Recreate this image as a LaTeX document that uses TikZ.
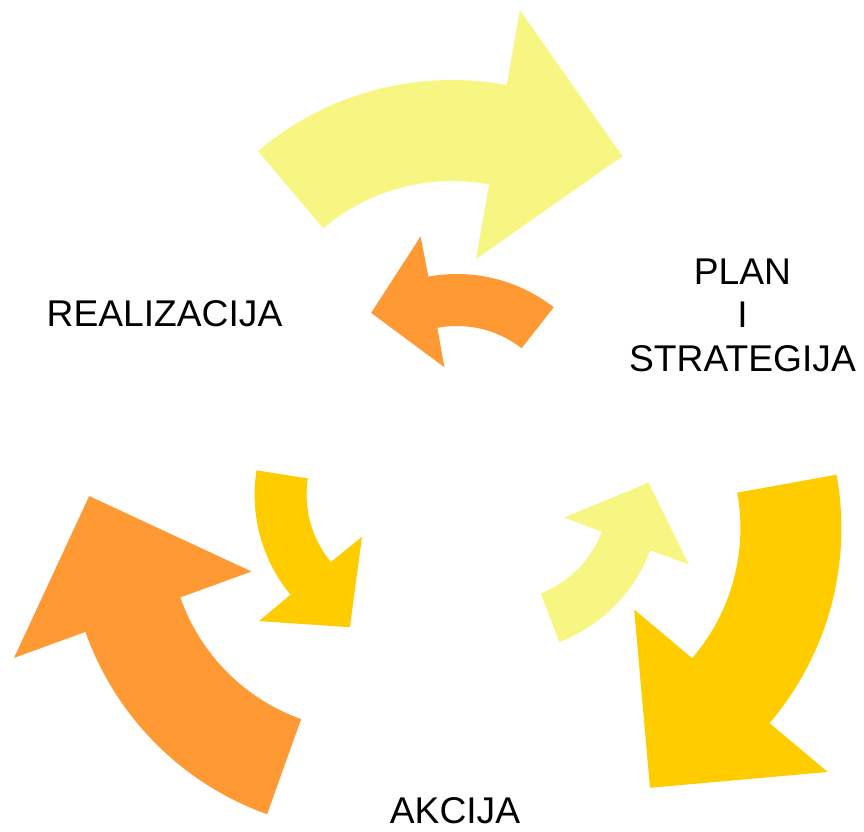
\documentclass[tikz,border=0pt]{standalone}
\usepackage{fontspec}
\setmainfont{Liberation Sans}
\definecolor{lyel}{RGB}{248,246,130}
\definecolor{gold}{RGB}{255,204,0}
\definecolor{orng}{RGB}{255,153,51}
\tikzset{
  bigarr/.pic={\path[pic actions] (130.3:300) arc[start angle=130.3,end angle=79.5,radius=300]
      -- (79.6:376) -- (52.7:281.3) -- (78.8:123.3) -- (79.25:199)
      arc[start angle=79.25,end angle=130.3,radius=199] -- cycle;},
  smallarr/.pic={\path[pic actions] (51:157) arc[start angle=51,end angle=99.5,radius=157]
      -- (99.6:198) -- (125:146) -- (100.2:65) -- (99.75:105)
      arc[start angle=99.75,end angle=51,radius=105] -- cycle;},
  lbl/.style={font=\fontsize{37.2bp}{44bp}\selectfont, inner sep=0pt, anchor=base}
}
\begin{document}
\begin{tikzpicture}[x=1bp,y=1bp]
\useasboundingbox (0,0) rectangle (864,832);
\fill[white] (0,0) rectangle (864,832);
% big arrows
\pic[fill=lyel] at (452,452) {bigarr};
\pic[fill=gold, rotate=-120] at (541.4,303.7) {bigarr};
\pic[fill=orng, rotate=120] at (368.2,300.2) {bigarr};
% small arrows
\pic[fill=orng, rotate=1] at (457,401) {smallarr};
\pic[fill=gold, rotate=120] at (411.6,337.1) {smallarr};
\pic[fill=lyel, rotate=240] at (503.1,336.6) {smallarr};
% labels
\node[lbl] (plan) at (742.5,547.5) {PLAN};
\node[lbl] (i) at (742.5,504) {I};
\node[lbl] (strat) at (742.5,460.5) {STRATEGIJA};
\node[lbl] (real) at (164.5,505) {REALIZACIJA};
\node[lbl] (akc) at (455,8) {AKCIJA};
\end{tikzpicture}
\end{document}
